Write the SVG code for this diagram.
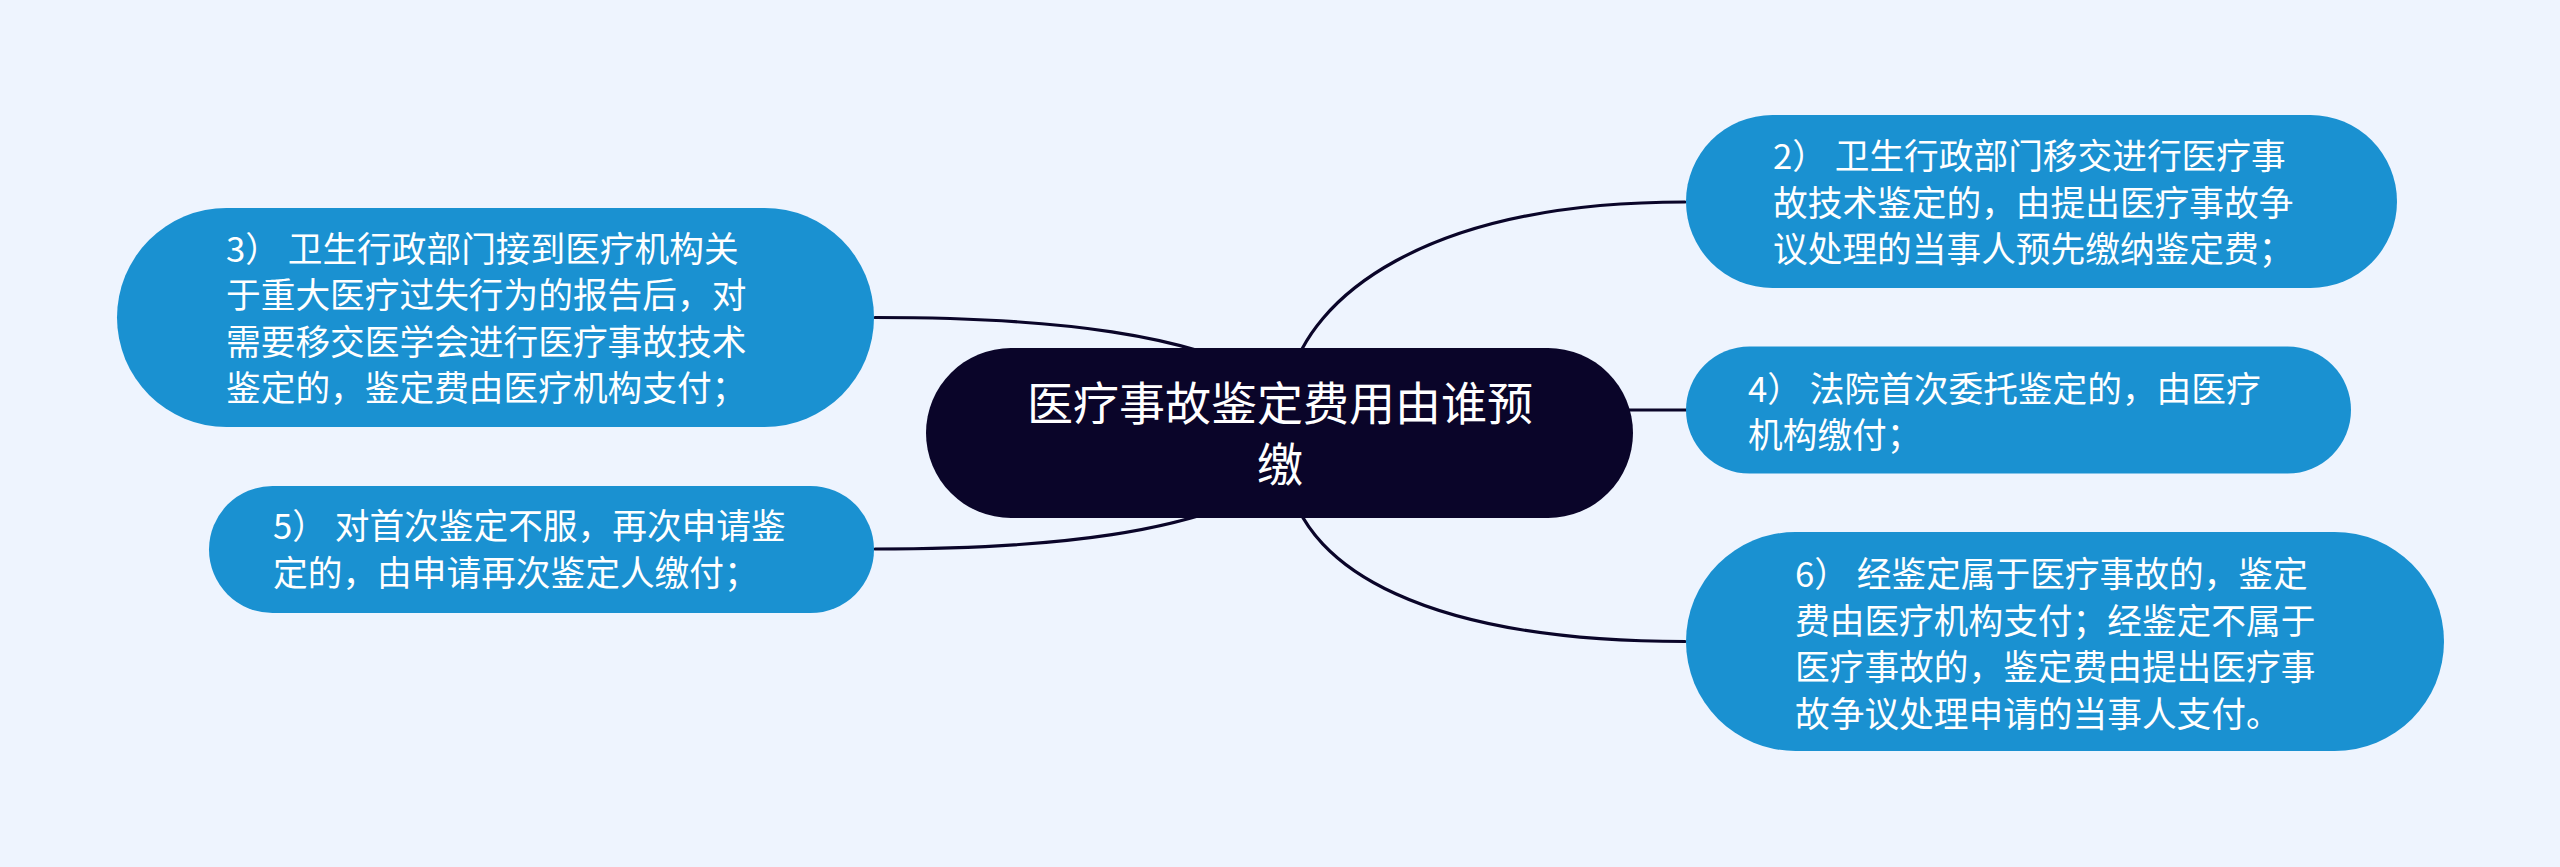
<svg xmlns="http://www.w3.org/2000/svg" width="2560" height="867" viewBox="0 0 2560 867">
<style>
.bg{fill:#eef4fe}
.child{fill:#1a91d1}
.root{fill:#0a0529}
.edge{fill:none;stroke:#0a0529;stroke-width:3.2;stroke-linecap:round}
.ct{font-family:"Noto Sans CJK SC","Noto Sans",sans-serif;font-size:34.7px;fill:#ffffff}
.rt{font-family:"Noto Sans CJK SC","Noto Sans",sans-serif;font-size:46px;fill:#ffffff;text-anchor:middle}
</style>
<rect class="bg" x="0" y="0" width="2560" height="867"/>
<g id="connectors">
<path class="edge" d="M1290,380 C1310,300 1420,202 1685,202"/>
<path class="edge" d="M1600,410 L1686,410"/>
<path class="edge" d="M1290,486 C1310,566 1420,641.5 1685,641.5"/>
<path class="edge" d="M875,317.5 C1060,317.5 1190,335 1270,380"/>
<path class="edge" d="M875,549 C1060,549 1190,531.5 1270,486.5"/>
</g>
<g id="root">
<rect class="root" x="926" y="348" width="707" height="170" rx="85" ry="85"/>
<text class="rt"><tspan x="1280" y="419.5">医疗事故鉴定费用由谁预</tspan><tspan x="1280" y="480.5">缴</tspan></text>
</g>
<g id="node2">
<rect class="child" x="1686" y="115" width="711" height="173" rx="86.5" ry="86.5"/>
<text class="ct"><tspan x="1773" y="169">2） 卫生行政部门移交进行医疗事</tspan><tspan x="1773" y="215.7">故技术鉴定的，由提出医疗事故争</tspan><tspan x="1773" y="262.4">议处理的当事人预先缴纳鉴定费；</tspan></text>
</g>
<g id="node4">
<rect class="child" x="1686" y="346.5" width="665" height="127" rx="63.5" ry="63.5"/>
<text class="ct"><tspan x="1748" y="401.5">4） 法院首次委托鉴定的，由医疗</tspan><tspan x="1748" y="447.5">机构缴付；</tspan></text>
</g>
<g id="node6">
<rect class="child" x="1686" y="532" width="758" height="219" rx="109.5" ry="109.5"/>
<text class="ct"><tspan x="1795" y="587">6） 经鉴定属于医疗事故的，鉴定</tspan><tspan x="1795" y="634">费由医疗机构支付；经鉴定不属于</tspan><tspan x="1795" y="680">医疗事故的，鉴定费由提出医疗事</tspan><tspan x="1795" y="727">故争议处理申请的当事人支付。</tspan></text>
</g>
<g id="node3">
<rect class="child" x="117" y="208" width="757" height="219" rx="109.5" ry="109.5"/>
<text class="ct"><tspan x="226" y="261.5">3） 卫生行政部门接到医疗机构关</tspan><tspan x="226" y="308">于重大医疗过失行为的报告后，对</tspan><tspan x="226" y="355">需要移交医学会进行医疗事故技术</tspan><tspan x="226" y="401">鉴定的，鉴定费由医疗机构支付；</tspan></text>
</g>
<g id="node5">
<rect class="child" x="209" y="486" width="665" height="127" rx="63.5" ry="63.5"/>
<text class="ct"><tspan x="273" y="539">5） 对首次鉴定不服，再次申请鉴</tspan><tspan x="273" y="585.5">定的，由申请再次鉴定人缴付；</tspan></text>
</g>
</svg>
